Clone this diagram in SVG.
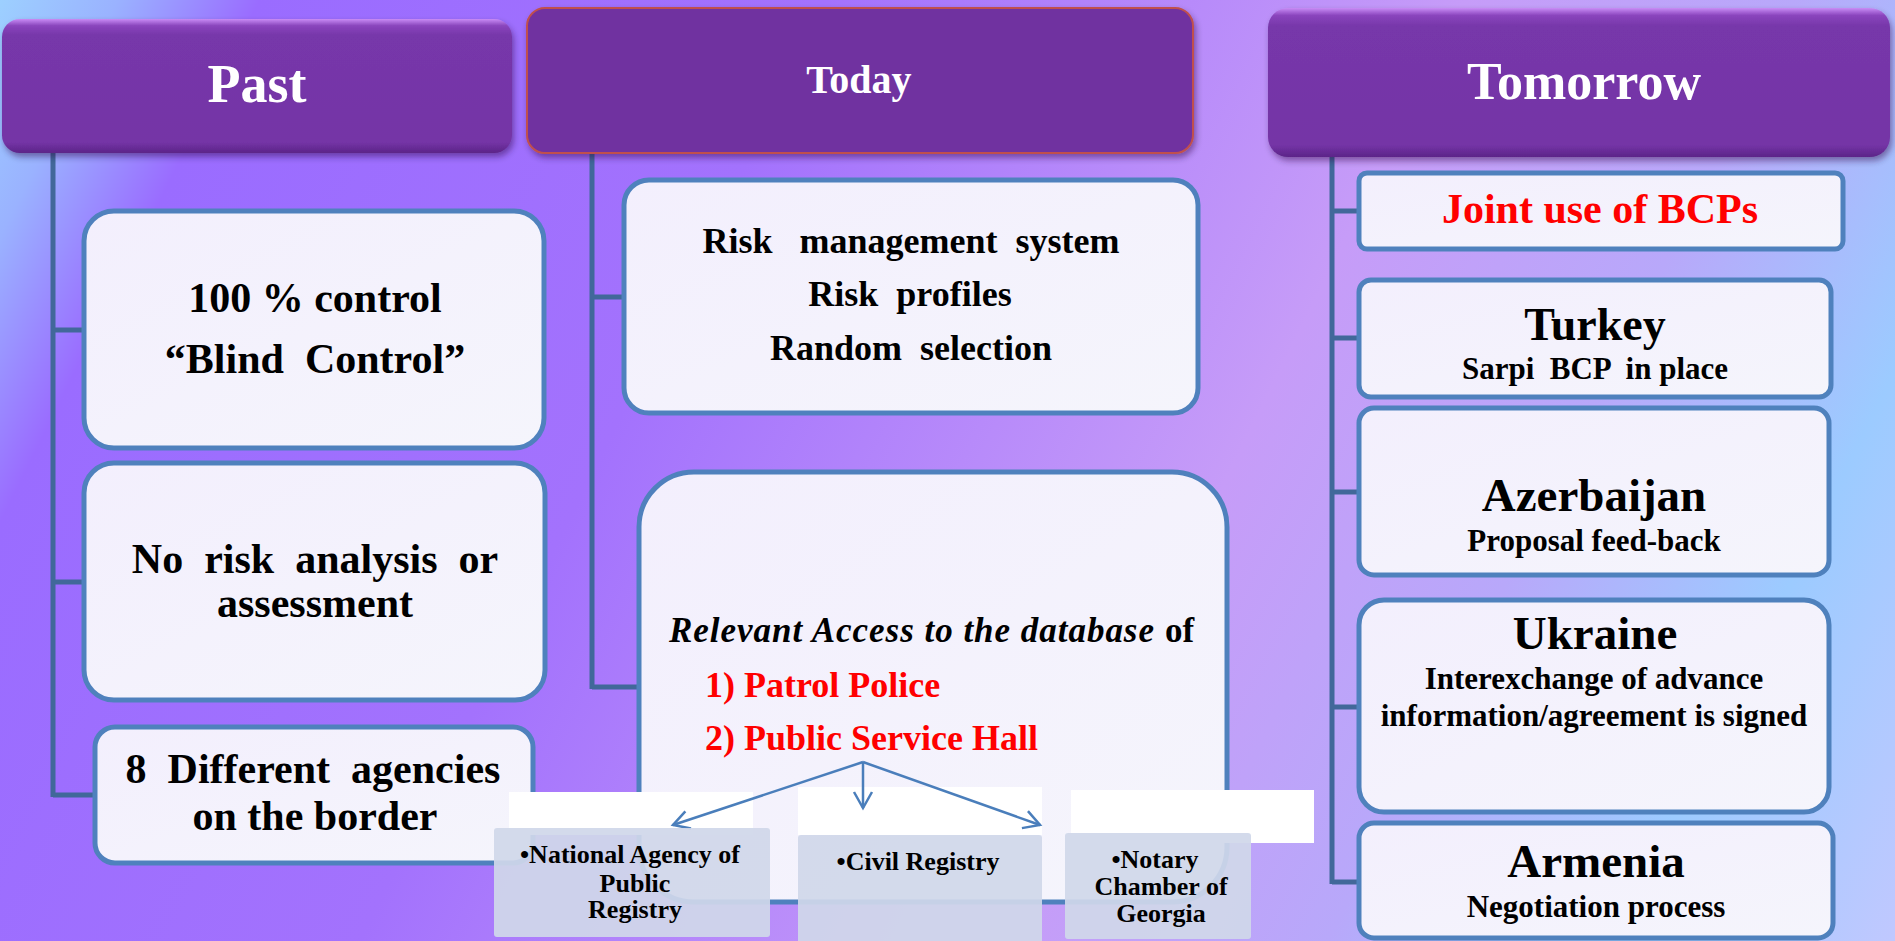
<svg xmlns="http://www.w3.org/2000/svg" width="1895" height="941" viewBox="0 0 1895 941">
<defs>
<linearGradient id="bg" gradientUnits="userSpaceOnUse" x1="0" y1="0" x2="1895" y2="941">
<stop offset="0" stop-color="#9dd0ff"/>
<stop offset="0.05" stop-color="#9ab2ff"/>
<stop offset="0.11" stop-color="#9a6cff"/>
<stop offset="0.35" stop-color="#a372fd"/>
<stop offset="0.62" stop-color="#c69cf8"/>
<stop offset="0.76" stop-color="#b8a8fa"/>
<stop offset="0.88" stop-color="#9ccbff"/>
<stop offset="1" stop-color="#c0c8ff"/>
</linearGradient>
<linearGradient id="hdr" x1="0" y1="0" x2="0" y2="1">
<stop offset="0" stop-color="#c98cf6"/>
<stop offset="0.05" stop-color="#8a45bd"/>
<stop offset="0.12" stop-color="#7737aa"/>
<stop offset="0.92" stop-color="#7434a6"/>
<stop offset="1" stop-color="#5c2488"/>
</linearGradient>
<linearGradient id="box" x1="0" y1="0" x2="1" y2="1">
<stop offset="0" stop-color="#f3effd"/>
<stop offset="1" stop-color="#f5f5fc"/>
</linearGradient>
<filter id="sh" x="-5%" y="-10%" width="110%" height="130%">
<feDropShadow dx="2" dy="4" stdDeviation="3" flood-color="#2a1040" flood-opacity="0.45"/>
</filter>
<marker id="arr" markerUnits="userSpaceOnUse" markerWidth="22" markerHeight="22" viewBox="0 0 22 22" refX="19" refY="11" orient="auto">
<path d="M3,2 L19,11 L3,20" fill="none" stroke="#4a7ebb" stroke-width="2.5"/>
</marker>
<style>
.hd{font-family:"Liberation Serif","Times New Roman",serif;font-weight:bold;fill:#ffffff;text-anchor:middle}
.t{font-family:"Liberation Serif","Times New Roman",serif;font-weight:bold;fill:#000000;text-anchor:middle}
.r{font-family:"Liberation Serif","Times New Roman",serif;font-weight:bold;fill:#ff0000}
.bx{fill:url(#box);stroke:#4f81bd;stroke-width:5}
.ln{stroke:#41689a;stroke-width:5;fill:none}
.gy{fill:#d0d7ea;fill-opacity:0.93}
.wh{fill:#ffffff}
.ar{stroke:#4a7ebb;stroke-width:2.5;fill:none}
</style>
</defs>
<rect x="0" y="0" width="1895" height="941" fill="url(#bg)"/>

<g id="connectors">
<path class="ln" d="M53,153 V797 M53,330 H86 M53,582 H86 M53,795 H97"/>
<path class="ln" d="M592,153 V689 M592,297 H626 M592,687 H641"/>
<path class="ln" d="M1332,157 V884 M1332,211 H1361 M1332,338 H1361 M1332,492 H1361 M1332,707 H1361 M1332,882 H1361"/>
</g>

<g id="hdr-past">
<rect x="2" y="19" width="510" height="134" rx="18" fill="url(#hdr)" filter="url(#sh)"/>
<text class="hd" x="257" y="102" font-size="54">Past</text>
</g>
<g id="hdr-today">
<rect x="527" y="8" width="666" height="145" rx="18" fill="#7030a0" stroke="#c0504d" stroke-width="2" filter="url(#sh)"/>
<text class="hd" x="859" y="93" font-size="40">Today</text>
</g>
<g id="hdr-tomorrow">
<rect x="1268" y="8" width="622" height="149" rx="20" fill="url(#hdr)" filter="url(#sh)"/>
<text class="hd" x="1584" y="99" font-size="52">Tomorrow</text>
</g>

<g id="past-1">
<rect class="bx" x="84" y="211" width="460" height="237" rx="30"/>
<text class="t" x="315" y="312" font-size="42">100 % control</text>
<text class="t" x="315" y="373" font-size="42" xml:space="preserve">“Blind  Control”</text>
</g>
<g id="past-2">
<rect class="bx" x="84" y="463" width="461" height="237" rx="30"/>
<text class="t" x="315" y="573" font-size="42" xml:space="preserve">No  risk  analysis  or</text>
<text class="t" x="315" y="617" font-size="42">assessment</text>
</g>
<g id="past-3">
<rect class="bx" x="95" y="727" width="438" height="136" rx="20"/>
<text class="t" x="313" y="783" font-size="42" xml:space="preserve">8  Different  agencies</text>
<text class="t" x="315" y="830" font-size="42">on the border</text>
</g>

<g id="today-1">
<rect class="bx" x="624" y="180" width="574" height="233" rx="25"/>
<text class="t" x="911" y="253" font-size="36" xml:space="preserve">Risk   management  system</text>
<text class="t" x="910" y="306" font-size="36" xml:space="preserve">Risk  profiles</text>
<text class="t" x="911" y="360" font-size="36" xml:space="preserve">Random  selection</text>
</g>
<g id="today-2">
<rect class="bx" x="639" y="472" width="588" height="430" rx="55"/>
<text x="669" y="642" font-size="35" font-style="italic" font-weight="bold" font-family="'Liberation Serif','Times New Roman',serif" textLength="485" lengthAdjust="spacing">Relevant Access to the database</text>
<text x="1165" y="642" font-size="35" font-weight="bold" font-family="'Liberation Serif','Times New Roman',serif">of</text>
<text class="r" x="705" y="697" font-size="36">1) Patrol Police</text>
<text class="r" x="705" y="750" font-size="36">2) Public Service Hall</text>
</g>

<g id="blanks">
<rect class="wh" x="509" y="792" width="244" height="43"/>
<rect class="wh" x="798" y="787" width="244" height="48"/>
<rect class="wh" x="1071" y="790" width="243" height="53"/>
</g>

<g id="arrows">
<path class="ar" d="M863,762 L673,825" marker-end="url(#arr)"/>
<path class="ar" d="M863,762 L863,808" marker-end="url(#arr)"/>
<path class="ar" d="M863,762 L1040,825" marker-end="url(#arr)"/>
</g>

<g id="gray-national">
<rect class="gy" x="494" y="828" width="276" height="109" rx="3"/>
<text class="t" x="630" y="863" font-size="26">•National Agency of</text>
<text class="t" x="635" y="892" font-size="26">Public</text>
<text class="t" x="635" y="918" font-size="26">Registry</text>
</g>
<g id="gray-civil">
<rect class="gy" x="798" y="835" width="244" height="110" rx="3"/>
<text class="t" x="918" y="870" font-size="26">•Civil Registry</text>
</g>
<g id="gray-notary">
<rect class="gy" x="1065" y="833" width="186" height="106" rx="3"/>
<text class="t" x="1155" y="868" font-size="26">•Notary</text>
<text class="t" x="1161" y="895" font-size="26">Chamber of</text>
<text class="t" x="1161" y="922" font-size="26">Georgia</text>
</g>

<g id="tm-joint">
<rect class="bx" x="1359" y="173" width="484" height="76" rx="8"/>
<text class="r" x="1600" y="223" font-size="42" text-anchor="middle">Joint use of BCPs</text>
</g>
<g id="tm-turkey">
<rect class="bx" x="1359" y="280" width="472" height="117" rx="12"/>
<text class="t" x="1595" y="340" font-size="46">Turkey</text>
<text class="t" x="1595" y="379" font-size="31" xml:space="preserve">Sarpi  BCP  in place</text>
</g>
<g id="tm-azerbaijan">
<rect class="bx" x="1359" y="408" width="470" height="167" rx="15"/>
<text class="t" x="1594" y="511" font-size="47">Azerbaijan</text>
<text class="t" x="1594" y="551" font-size="31">Proposal feed-back</text>
</g>
<g id="tm-ukraine">
<rect class="bx" x="1359" y="600" width="470" height="212" rx="25"/>
<text class="t" x="1595" y="649" font-size="47">Ukraine</text>
<text class="t" x="1594" y="689" font-size="31">Interexchange of advance</text>
<text class="t" x="1594" y="726" font-size="31">information/agreement is signed</text>
</g>
<g id="tm-armenia">
<rect class="bx" x="1359" y="823" width="474" height="115" rx="15"/>
<text class="t" x="1596" y="877" font-size="47">Armenia</text>
<text class="t" x="1596" y="917" font-size="31">Negotiation process</text>
</g>
</svg>
